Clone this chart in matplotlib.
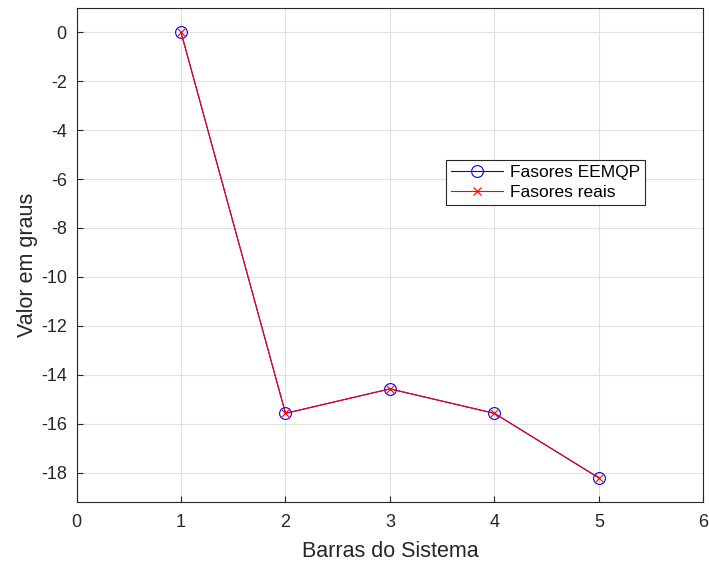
import numpy as np
import matplotlib
matplotlib.use('Agg')
import matplotlib.pyplot as plt

### Data
barras= [1,2,3,4,5]
ang_eemqp= [0.0,-15.58,-14.58,-15.58,-18.22]
ang_reais= [0.0,-15.58,-14.58,-15.58,-18.22]

plt.rcParams['font.family']= ['Liberation Sans','DejaVu Sans']
plt.rcParams['axes.unicode_minus']= False

fig=plt.figure()
fig.set_size_inches(7.09,5.62)
ax= fig.add_axes([0.108,0.107,0.884,0.879])

ax.plot(barras,ang_eemqp,c='b',lw=0.8,marker='o',ms=8.5,mfc='none',mew=0.8,label='Fasores EEMQP')
ax.plot(barras,ang_reais,c='r',lw=0.8,marker='x',ms=6,mew=0.8,label='Fasores reais')

ax.set_xlim(0,6)
ax.set_ylim(-19.2,1)
ax.set_xticks(np.arange(0,7,1))
ax.set_yticks(np.arange(-18,1,2))
ax.grid(True,color='0.88',lw=0.8)
ax.tick_params(axis='both',labelsize=13,direction='in',length=4,colors='0.15')
ax.tick_params(axis='x',pad=9)
ax.tick_params(axis='y',pad=7)
for sp in ax.spines.values():
    sp.set_color('0.15'); sp.set_linewidth(0.8)

ax.set_xlabel('Barras do Sistema',fontsize=15.5,color='0.15',labelpad=7)
ax.set_ylabel('Valor em graus',fontsize=15.5,color='0.15')
ax.yaxis.set_label_coords(-0.062,0.48)

leg= ax.legend(loc='upper left',bbox_to_anchor=(0.589,0.692),fontsize=12.5,fancybox=False,
               framealpha=1,edgecolor='0.15',handlelength=3.0,borderpad=0.3,labelspacing=0.25,
               handletextpad=0.4,borderaxespad=0)
leg.get_frame().set_linewidth(0.8)

fig.savefig('out.png',dpi=100)
